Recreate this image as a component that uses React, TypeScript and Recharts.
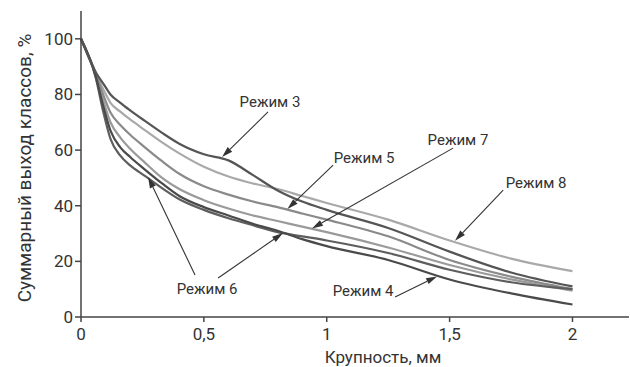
import React from 'react';
import {
  LineChart,
  Line,
  XAxis,
  YAxis,
  ReferenceLine,
  ReferenceDot
} from 'recharts';

// крупность, мм
const sizes = [0, 0.06, 0.09, 0.12, 0.16, 0.2, 0.26, 0.33, 0.4, 0.5, 0.6, 0.7, 0.8, 0.9, 1, 1.25, 1.5, 1.75, 2];

// суммарный выход классов, %
const mode3 = [100, 88, 84, 80, 77, 74.3, 70.5, 66.2, 62.3, 58.5, 56.3, 51, 45.5, 41.5, 38.5, 32, 23.5, 16, 11];
const mode4 = [100, 86.5, 76, 67, 61, 57.5, 53, 48, 43.5, 39.5, 36.5, 33.5, 31, 28, 25.5, 20.5, 13.5, 8.5, 4.5];
const mode5 = [100, 87.5, 80, 73.5, 69, 65.5, 61, 56, 51.5, 47, 44, 41.5, 39.5, 37.2, 35, 29, 20.5, 14.5, 10];
const mode6 = [100, 86, 74, 64, 58, 54.5, 50.7, 46.3, 42.3, 38.5, 35.5, 33, 30.5, 29, 27.5, 23, 17, 12.5, 10];
const mode7 = [100, 87, 78, 70, 64.5, 60.5, 55.5, 50, 46, 42, 39, 36.5, 34.5, 32.5, 30.5, 25, 18.7, 13.5, 9.5];
const mode8 = [100, 88, 82, 77, 73.8, 71, 67.2, 62.8, 58.8, 54, 50.5, 48, 46, 43.5, 41, 35, 27.5, 21, 16.5];

const xTicks = [0, 0.5, 1, 1.5, 2];
const yTicks = [0, 20, 40, 60, 80, 100];

const data = sizes.map((s, i) => ({
  size: s,
  m3: mode3[i],
  m4: mode4[i],
  m5: mode5[i],
  m6: mode6[i],
  m7: mode7[i],
  m8: mode8[i]
}));

const series = [
  { key: 'm8', color: '#a9a9a9' },
  { key: 'm7', color: '#9a9a9a' },
  { key: 'm5', color: '#8a8a8a' },
  { key: 'm6', color: '#5e5e5e' },
  { key: 'm4', color: '#4a4a4a' },
  { key: 'm3', color: '#555555' }
];

// подписи: центр текста (в единицах осей)
const labels = [
  { text: 'Режим 3', x: 0.769, y: 77.3 },
  { text: 'Режим 5', x: 1.152, y: 57.2 },
  { text: 'Режим 7', x: 1.534, y: 63.6 },
  { text: 'Режим 8', x: 1.852, y: 48.2 },
  { text: 'Режим 6', x: 0.513, y: 10.1 },
  { text: 'Режим 4', x: 1.148, y: 9.3 }
];

// стрелки: хвост -> острие
const arrows = [
  { from: [0.761, 73.7], to: [0.574, 57.5] },
  { from: [1.026, 54.6], to: [0.84, 38.8] },
  { from: [1.514, 60.7], to: [0.94, 31.8] },
  { from: [1.718, 45.6], to: [1.522, 27.4] },
  { from: [0.464, 15.1], to: [0.273, 50.3] },
  { from: [0.558, 14.0], to: [0.822, 30.2] },
  { from: [1.278, 7.2], to: [1.449, 14.6] }
];

const FONT = 'Roboto, "Noto Sans", sans-serif';

const Arrow = (props: any) => {
  const { x1, y1, x2, y2 } = props;
  const ang = Math.atan2(y2 - y1, x2 - x1);
  const len = 11;
  const w = 3.2;
  const bx = x2 - len * Math.cos(ang);
  const by = y2 - len * Math.sin(ang);
  const px = -Math.sin(ang) * w;
  const py = Math.cos(ang) * w;
  return (
    <g>
      <line x1={x1} y1={y1} x2={bx} y2={by} stroke="#333" strokeWidth={1.1} />
      <polygon
        points={`${x2},${y2} ${bx + px},${by + py} ${bx - px},${by - py}`}
        fill="#333"
      />
    </g>
  );
};

const fmt = (v: number) => String(v).replace('.', ',');

export default function App() {
  return (
    <div style={{ position: 'absolute', left: 0, top: 0, background: '#fff' }}>
      <LineChart
        width={630}
        height={367}
        data={data}
        margin={{ top: 11, right: 1, bottom: 0, left: 0 }}
        style={{ fontFamily: FONT }}
      >
        <XAxis
          dataKey="size"
          type="number"
          domain={[0, 2.23]}
          ticks={xTicks}
          tickFormatter={fmt}
          height={50}
          tickSize={5}
          tickMargin={6}
          stroke="#444"
          strokeWidth={1.5}
          tick={{ fill: '#333', fontSize: 17 }}
          label={{
            content: (p: any) => {
              const vb = p.viewBox;
              return (
                <text
                  x={vb.x + vb.width / 2 + 28}
                  y={vb.y + 46}
                  textAnchor="middle"
                  fontSize={17}
                  fill="#333"
                >
                  Крупность, мм
                </text>
              );
            }
          }}
        />
        <YAxis
          type="number"
          domain={[0, 110]}
          ticks={yTicks}
          width={81}
          tickSize={6}
          tickMargin={2}
          stroke="#444"
          strokeWidth={1.5}
          tick={{ fill: '#333', fontSize: 17 }}
          label={{
            content: (p: any) => {
              const vb = p.viewBox;
              const cx = vb.x + 24;
              const cy = vb.y + vb.height / 2 + 4;
              return (
                <text
                  x={cx}
                  y={cy}
                  transform={`rotate(-90 ${cx} ${cy})`}
                  textAnchor="middle"
                  dominantBaseline="central"
                  fontSize={19}
                  fill="#333"
                >
                  Суммарный выход классов, %
                </text>
              );
            }
          }}
        />
        {series.map((s) => (
          <Line
            key={s.key}
            dataKey={s.key}
            type="monotone"
            stroke={s.color}
            strokeWidth={2.2}
            dot={false}
            isAnimationActive={false}
          />
        ))}
        {arrows.map((a, i) => (
          <ReferenceLine
            key={'a' + i}
            segment={[
              { x: a.from[0], y: a.from[1] },
              { x: a.to[0], y: a.to[1] }
            ]}
            ifOverflow="visible"
            shape={Arrow}
          />
        ))}
        {labels.map((l) => (
          <ReferenceDot
            key={l.text}
            x={l.x}
            y={l.y}
            ifOverflow="visible"
            shape={(p: any) => (
              <text
                x={p.cx}
                y={p.cy}
                textAnchor="middle"
                dominantBaseline="central"
                fontSize={15}
                fill="#333"
              >
                {l.text}
              </text>
            )}
          />
        ))}
      </LineChart>
    </div>
  );
}
